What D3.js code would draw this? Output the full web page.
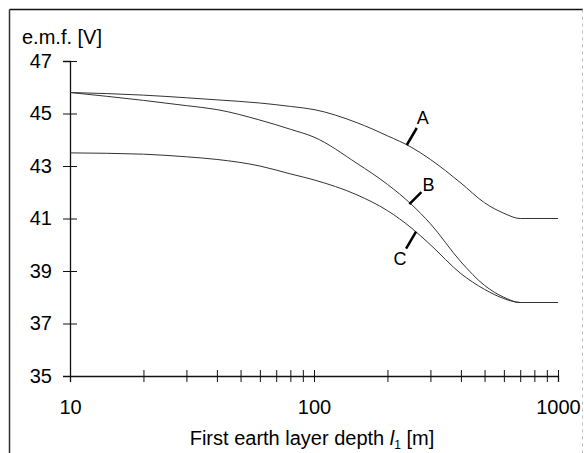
<!DOCTYPE html>
<html lang="en">
<head>
  <meta charset="UTF-8" />
  <title>e.m.f. vs first earth layer depth</title>
  <script src="https://d3js.org/d3.v7.min.js"></script>
  <style>
    body {
      margin: 0;
      background: #fff;
      font-family: 'Liberation Sans', Arial, sans-serif;
    }
    svg { display: block; }
  </style>
</head>
<body>
  <svg id="chart" width="584" height="453"></svg>

  <script>
    // depth of first earth layer [m]
    const depths = [10, 20, 30, 40, 60, 80, 100, 150, 200, 250, 300, 400, 500, 600, 700, 1000];
    const seriesA = [45.8, 45.7, 45.6, 45.52, 45.4, 45.27, 45.15, 44.65, 44.15, 43.72, 43.25, 42.35, 41.6, 41.2, 41.0, 41.0];
    const seriesB = [45.8, 45.5, 45.3, 45.15, 44.75, 44.4, 44.1, 43.1, 42.3, 41.55, 40.8, 39.35, 38.45, 38.0, 37.8, 37.8];
    const seriesC = [43.5, 43.45, 43.35, 43.25, 43.0, 42.7, 42.47, 41.9, 41.3, 40.65, 40.0, 38.9, 38.3, 37.95, 37.8, 37.8];
    const yTicks = [35, 37, 39, 41, 43, 45, 47];
    const xTicks = [10, 20, 30, 40, 50, 60, 70, 80, 90, 100, 200, 300, 400, 500, 600, 700, 800, 900, 1000];
    const xLabels = [10, 100, 1000];
    // curve labels: name, depth and emf where the pointer touches the curve
    const labels = [
      {name: "A", depth: 240, emf: 43.8, dx: 10, dy: -17},
      {name: "B", depth: 246, emf: 41.55, dx: 12, dy: -12},
      {name: "C", depth: 262, emf: 40.5, dx: -10, dy: 17}
    ];

    const svg = d3.select("#chart");
    const margin = {top: 61, right: 26, bottom: 77, left: 70};
    const width = 584 - margin.left - margin.right,
          height = 453 - margin.top - margin.bottom;

    // frame (scanned figure border)
    svg.append("line").attr("x1", 9.5).attr("y1", 9.5).attr("x2", 583).attr("y2", 9.5)
      .attr("stroke", "#111").attr("stroke-width", 1.5);
    svg.append("line").attr("x1", 9.5).attr("y1", 9.5).attr("x2", 9.5).attr("y2", 453)
      .attr("stroke", "#333").attr("stroke-width", 1.5);
    svg.append("line").attr("x1", 582.5).attr("y1", 9.5).attr("x2", 582.5).attr("y2", 453)
      .attr("stroke", "#bbb").attr("stroke-width", 1).attr("stroke-dasharray", "3,4");

    const g = svg.append("g").attr("transform", `translate(${margin.left},${margin.top})`);

    const x = d3.scaleLog().domain([10, 1000]).range([0, width]);
    const y = d3.scaleLinear().domain([35, 47]).range([height, 0]);

    // x axis
    const xAxis = g.append("g")
      .attr("transform", `translate(0,${height})`)
      .call(d3.axisBottom(x).tickValues(xTicks).tickSize(6).tickPadding(18)
        .tickFormat(d => xLabels.includes(d) ? d : ""));
    xAxis.select(".domain").attr("stroke", "#111").attr("stroke-width", 1.3);
    xAxis.selectAll(".tick line").attr("y1", -6).attr("y2", 6).attr("stroke", "#111");
    xAxis.selectAll("text").attr("font-size", 20).attr("font-family", "'Liberation Sans', Arial, sans-serif").attr("fill", "#000");

    // y axis
    const yAxis = g.append("g")
      .call(d3.axisLeft(y).tickValues(yTicks).tickSize(7).tickPadding(11));
    yAxis.select(".domain").attr("stroke", "#111").attr("stroke-width", 1.3);
    yAxis.selectAll(".tick line").attr("x1", -7).attr("x2", 7).attr("stroke", "#111");
    yAxis.selectAll("text").attr("font-size", 20).attr("font-family", "'Liberation Sans', Arial, sans-serif").attr("fill", "#000");

    // curves
    const line = d3.line()
      .x(d => x(d[0]))
      .y(d => y(d[1]))
      .curve(d3.curveMonotoneX);
    [seriesA, seriesB, seriesC].forEach(s => {
      g.append("path")
        .datum(depths.map((d, i) => [d, s[i]]))
        .attr("fill", "none")
        .attr("stroke", "#333")
        .attr("stroke-width", 1)
        .attr("d", line);
    });

    // curve pointers + letters
    labels.forEach(l => {
      const px = x(l.depth), py = y(l.emf);
      g.append("line")
        .attr("x1", px).attr("y1", py)
        .attr("x2", px + l.dx).attr("y2", py + l.dy)
        .attr("stroke", "#000").attr("stroke-width", 2.5);
      g.append("text")
        .attr("x", px + l.dx * 1.6)
        .attr("y", py + l.dy * 1.6)
        .attr("dy", "0.35em")
        .attr("text-anchor", "middle")
        .attr("font-size", 18)
        .text(l.name);
    });

    // titles
    svg.append("text")
      .attr("x", 22).attr("y", 44)
      .attr("font-size", 20)
      .text("e.m.f. [V]");

    const xt = svg.append("text")
      .attr("x", 312).attr("y", 445)
      .attr("text-anchor", "middle")
      .attr("font-size", 20);
    xt.append("tspan").text("First earth layer depth ");
    xt.append("tspan").attr("font-style", "italic").text("l");
    xt.append("tspan").attr("font-size", 12).attr("dy", 4).text("1");
    xt.append("tspan").attr("dy", -4).text(" [m]");
  </script>
</body>
</html>
